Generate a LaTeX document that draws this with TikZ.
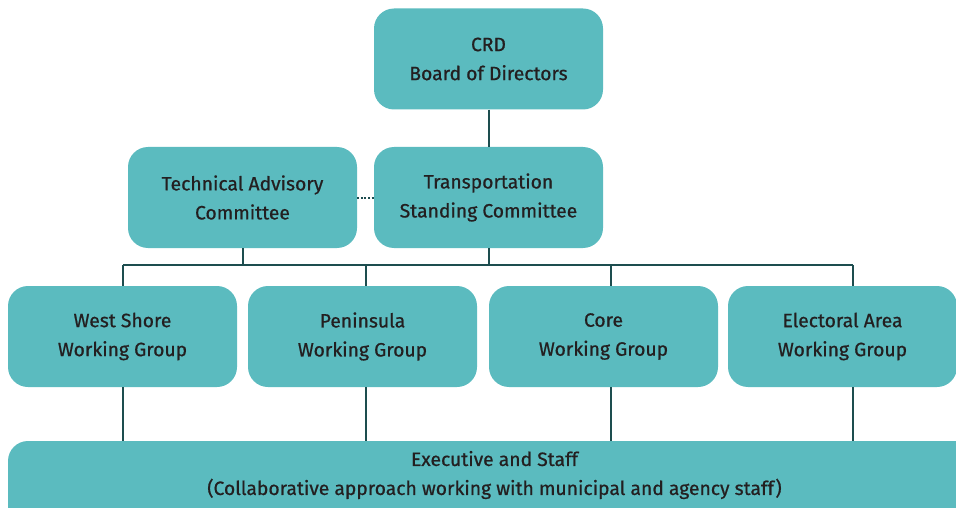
\documentclass[tikz,border=0pt]{standalone}
\usepackage{fontspec}
\setmainfont{Fira Sans}
\newfontfamily\labelfont{Fira Sans}[FakeBold=0.7]
\definecolor{boxfill}{HTML}{5BBBBF}
\definecolor{inkc}{HTML}{231F20}
\definecolor{linec}{HTML}{1D4D4F}
\begin{document}
\begin{tikzpicture}[x=1pt,y=-1pt,
  labeltext/.style={text=inkc, align=center, font=\labelfont\fontsize{19.3}{29}\selectfont},
  orgbox/.style={labeltext, fill=boxfill, draw=none, rounded corners=20pt,
    minimum width=229pt, minimum height=101pt, inner sep=0pt},
  link/.style={draw=linec, line width=2pt},
  dotlink/.style={draw=linec, line width=2pt, dash pattern=on 2pt off 1.6pt}]
\useasboundingbox (0,0) rectangle (956,508);
\clip (0,0) rectangle (956,508);

% top level
\node[orgbox] (crd) at (488.5,59) {CRD\\Board of Directors};
\node[orgbox] (tac) at (242.5,197.5) {Technical Advisory\\Committee};
\node[orgbox] (tsc) at (488.5,197.5) {Transportation\\Standing Committee};

% working groups
\node[orgbox] (ws)   at (122.5,336.5) {West Shore\\Working Group};
\node[orgbox] (pen)  at (362.5,336.5) {Peninsula\\Working Group};
\node[orgbox] (core) at (603.5,336.5) {Core\\Working Group};
\node[orgbox] (ea)   at (842.5,336.5) {Electoral Area\\Working Group};

% executive and staff (runs past the page edges)
\node[orgbox, minimum width=990pt, minimum height=120pt] (exec) at (503,501) {};
\node[labeltext, inner sep=0pt] (exectext) at (494.5,475)
  {Executive and Staff\\(Collaborative approach working with municipal and agency staff)};

% connectors
\draw[link] (crd.south) -- (tsc.north);
\draw[dotlink] (tac.east) -- (tsc.west);

\coordinate (busL) at (123,265);
\coordinate (busR) at (853,265);
\draw[link] (busL) -- (busR);
\draw[link] (tac.south) -- (tac.south |- busL);
\draw[link] (tsc.south) -- (tsc.south |- busL);

\foreach \g/\dx in {ws/0.5, pen/3.5, core/7.5, ea/10.5}{
  \draw[link] ([xshift=\dx pt]\g.north |- busL) -- ([xshift=\dx pt]\g.north);
  \draw[link] ([xshift=\dx pt]\g.south) -- ([xshift=\dx pt]\g.south |- exec.north);
}
\end{tikzpicture}
\end{document}
